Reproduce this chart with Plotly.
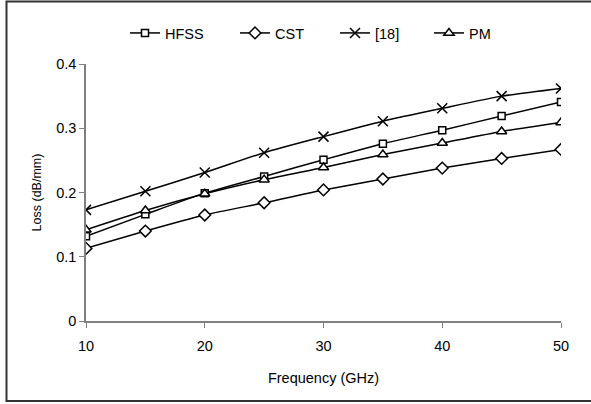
import plotly.graph_objects as go

freq = [10, 15, 20, 25, 30, 35, 40, 45, 50]
hfss = [0.132, 0.166, 0.199, 0.225, 0.251, 0.276, 0.297, 0.319, 0.341]
cst = [0.113, 0.140, 0.165, 0.184, 0.204, 0.221, 0.238, 0.253, 0.267]
ref18 = [0.173, 0.202, 0.231, 0.262, 0.287, 0.311, 0.331, 0.350, 0.362]
pm = [0.142, 0.172, 0.198, 0.220, 0.239, 0.259, 0.277, 0.295, 0.309]

series = [
    ("HFSS", hfss, "square", 7, "legend"),
    ("CST", cst, "diamond", 9, "legend2"),
    ("[18]", ref18, "x-thin", 10, "legend3"),
    ("PM", pm, "triangle-up", 9, "legend4"),
]

# plot area in pixels (for placing the frame/legend in paper coords)
L, R, T, B = 86, 561, 64, 321
W, H = R - L, B - T


def px_x(p):
    return (p - L) / W


def px_y(p):
    return (B - p) / H


fig = go.Figure()
for name, vals, sym, sz, lg in series:
    fig.add_trace(go.Scatter(
        x=freq, y=vals, name=name, mode="lines+markers", legend=lg,
        line=dict(color="black", width=1.5, shape="spline", smoothing=0.6),
        marker=dict(symbol=sym, size=sz, color="white",
                    line=dict(color="black", width=1.5)),
    ))

ff = "Liberation Sans, Arial, sans-serif"
font = dict(family=ff, size=14.5, color="black")
legend_starts = [125, 235, 335, 429]
legends = {}
for i, x0 in enumerate(legend_starts):
    key = "legend" if i == 0 else f"legend{i + 1}"
    legends[key] = dict(orientation="h", x=px_x(x0), xanchor="left",
                        y=px_y(33), yanchor="middle", font=font,
                        bgcolor="rgba(0,0,0,0)")

fig.update_layout(
    width=591, height=404,
    margin=dict(l=L, r=591 - R, t=T, b=404 - B),
    paper_bgcolor="white", plot_bgcolor="white",
    font=font,
    showlegend=True,
    **legends,
    xaxis=dict(range=[10, 50], tickvals=[10, 20, 30, 40, 50], showgrid=False,
               zeroline=False, showline=True, linecolor="#808080", linewidth=1.5,
               ticks="outside", ticklen=5, tickcolor="#808080", tickwidth=1,
               ticklabelstandoff=6,
               title=dict(text="Frequency (GHz)", font=font, standoff=20),
               tickfont=font),
    yaxis=dict(range=[0, 0.4], tickvals=[0, 0.1, 0.2, 0.3, 0.4],
               ticktext=["0", "0.1", "0.2", "0.3", "0.4"], showgrid=False,
               zeroline=False, showline=True, linecolor="#808080", linewidth=1.5,
               ticks="outside", ticklen=5, tickcolor="#808080", tickwidth=1,
               title=dict(text="Loss (dB/mm)", font=dict(family=ff, size=12.5, color="black"),
                          standoff=12),
               tickfont=font),
    shapes=[dict(type="rect", xref="paper", yref="paper",
                 x0=px_x(6.5), x1=px_x(620),
                 y0=px_y(401), y1=px_y(1.5),
                 line=dict(color="#333333", width=2), layer="below")],
)
fig.write_html("out.html")
